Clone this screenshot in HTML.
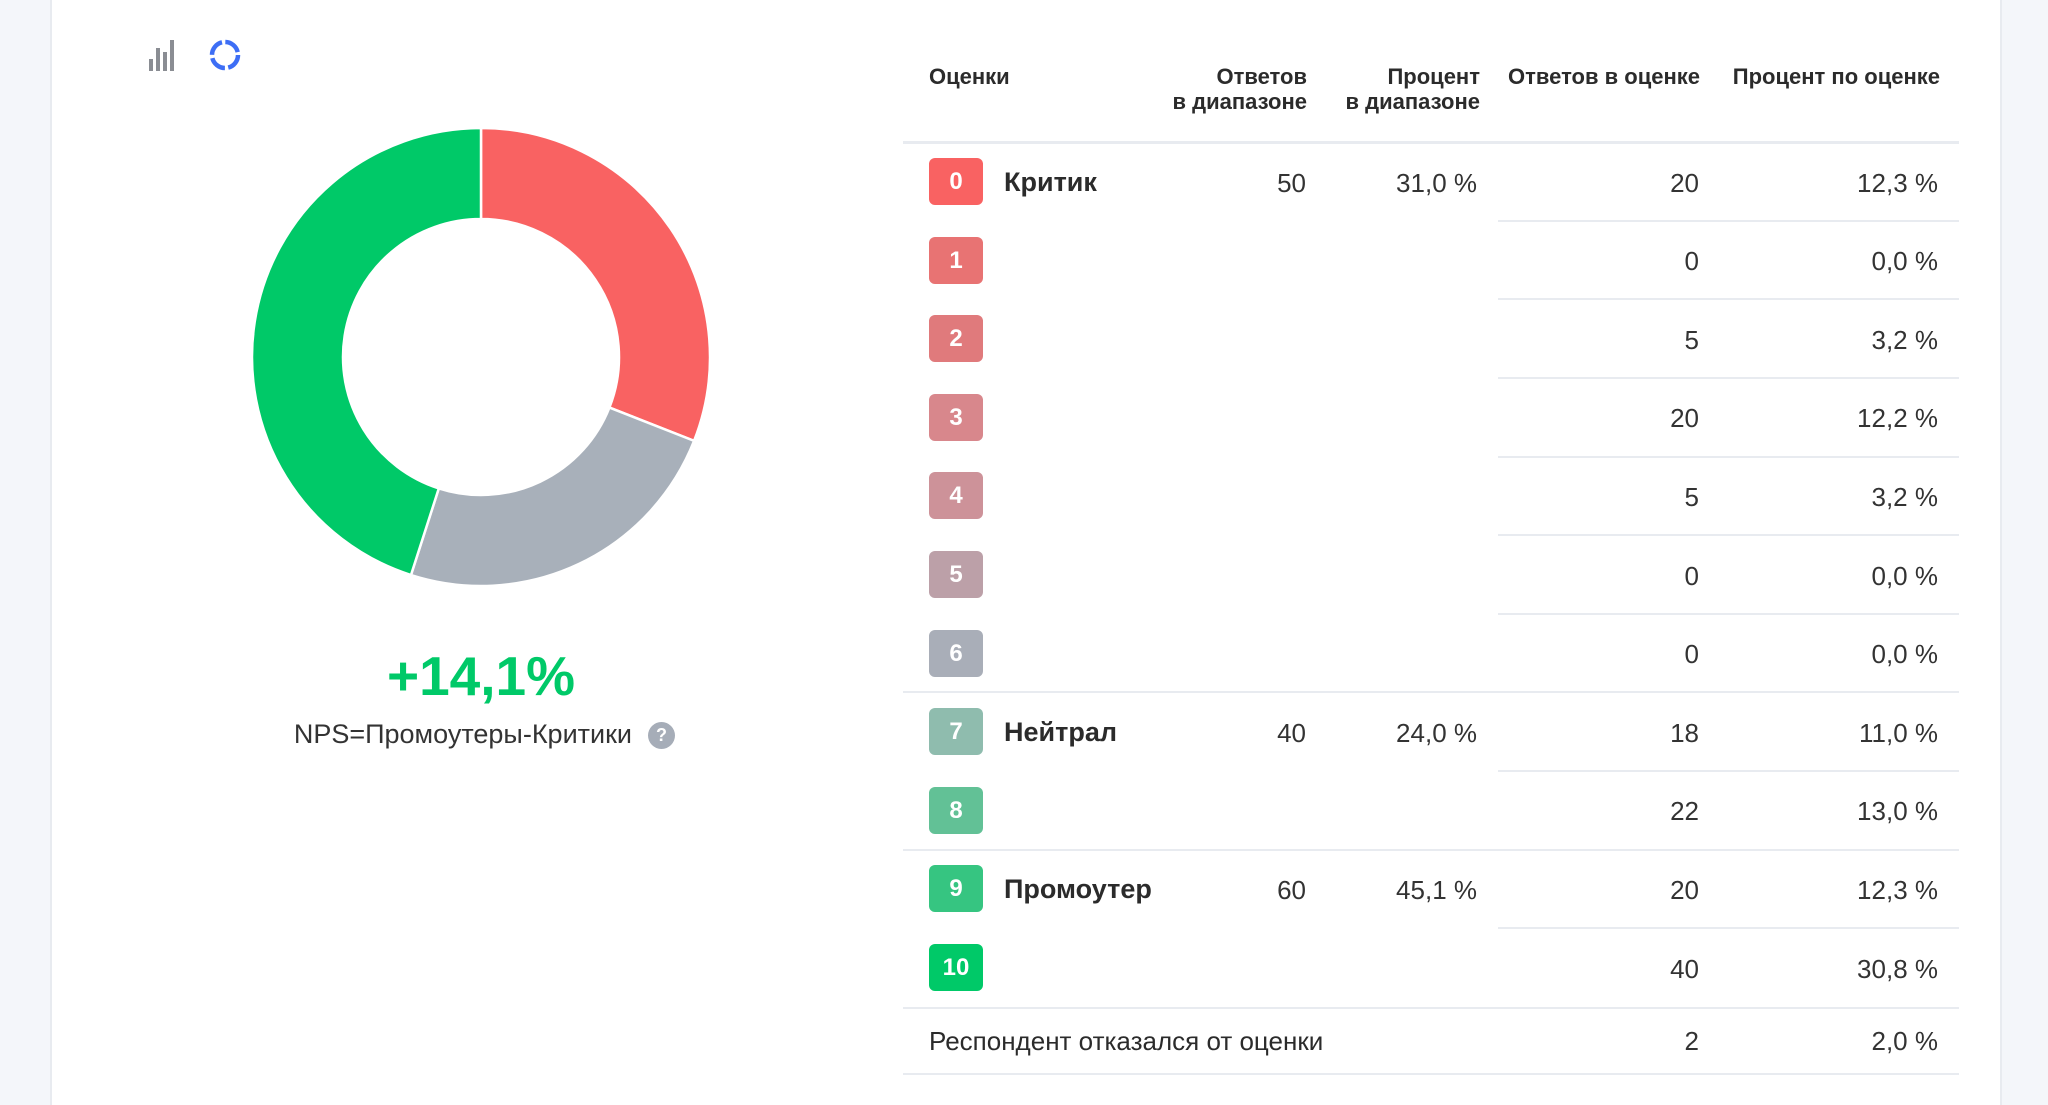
<!DOCTYPE html>
<html><head><meta charset="utf-8">
<style>
body{margin:0;width:2048px;height:1105px;background:#f4f6fa;font-family:"Liberation Sans",Roboto,"Noto Sans CJK SC",sans-serif;overflow:hidden;position:relative;color:#2b2b2b}
#card{position:absolute;left:50px;top:0;width:1948px;height:1105px;background:#fff;border-left:2px solid #e8ebf0;border-right:2px solid #e8ebf0}
.abs{position:absolute}
.hdr{position:absolute;font-weight:bold;font-size:22px;line-height:25px;color:#2b2b2b}
.num{position:absolute;font-size:26px;text-align:right;color:#333}
.badge{position:absolute;width:54px;height:47px;border-radius:6px;color:#fff;font-weight:bold;font-size:24px;line-height:47px;text-align:center}
.line{position:absolute;height:2px;background:#e8ebf0}
.lbl{position:absolute;font-weight:bold;font-size:27px;color:#2b2b2b}
</style></head><body>
<div id="card"></div>
<svg class="abs" style="left:0;top:0" width="2048" height="1105" id="chart">
  <g fill="#8a8d93">
    <rect x="149" y="59" width="4" height="12"/><rect x="156" y="48" width="4" height="23"/>
    <rect x="163" y="52" width="4" height="19"/><rect x="170" y="40" width="4" height="31"/>
  </g>
  <g>
    <circle cx="225" cy="55" r="13" fill="none" stroke="#3d6ef5" stroke-width="4.5" stroke-dasharray="17 3.4"/>
  </g>
</svg>
<div class="abs" style="left:281px;top:644px;width:400px;text-align:center;font-size:55px;font-weight:bold;color:#00c968">+14,1%</div>
<div class="abs" style="left:232px;top:719px;width:400px;text-align:right;font-size:27px;color:#333">NPS=Промоутеры-Критики</div>
<div class="abs" style="left:648px;top:722px;width:27px;height:27px;border-radius:50%;background:#a6adb8;color:#fff;font-weight:bold;font-size:18px;line-height:27px;text-align:center">?</div>

<div class="hdr" style="left:929px;top:64px">Оценки</div>
<div class="hdr" style="left:1107px;top:64px;width:200px;text-align:right">Ответов<br>в диапазоне</div>
<div class="hdr" style="left:1280px;top:64px;width:200px;text-align:right">Процент<br>в диапазоне</div>
<div class="hdr" style="left:1450px;top:64px;width:250px;text-align:right">Ответов в оценке</div>
<div class="hdr" style="left:1690px;top:64px;width:250px;text-align:right">Процент по оценке</div>
<div class="line" style="left:903px;top:141px;width:1056px;height:3px"></div>
<div id="rows"></div>

<script>
const groupNames=["Критики","Нейтралы","Промоутеры"];
const groupPercents=[31.0,24.0,45.1];
const groupColors=["#f96262","#a8b0ba","#00c968"];
const scores=[0,1,2,3,4,5,6,7,8,9,10];
const scoreCounts=[20,0,5,20,5,0,0,18,22,20,40];
const scorePercents=["12,3 %","0,0 %","3,2 %","12,2 %","3,2 %","0,0 %","0,0 %","11,0 %","13,0 %","12,3 %","30,8 %"];
const badgeColors=["#f96262","#e87373","#e07a7c","#d8878c","#cd9299","#bca0a8","#a9aeb8","#8fbcae","#62c196","#36c581","#00c968"];
const rangeStarts=[0,7,9];
const rangeLabels=["Критик","Нейтрал","Промоутер"];
const rangeCounts=[50,40,60];
const rangePercentLabels=["31,0 %","24,0 %","45,1 %"];
const refusedCount=2, refusedPercent="2,0 %";

const svg=document.getElementById('chart');
const cx=481,cy=357,R=229,r=138;
const total=groupPercents.reduce((a,b)=>a+b,0);
let a0=0;
function pt(rad,ang){return [cx+rad*Math.sin(ang),cy-rad*Math.cos(ang)];}
groupPercents.forEach((v,i)=>{
  const a1=a0+v/total*2*Math.PI;
  const large=(a1-a0)>Math.PI?1:0;
  const [x0,y0]=pt(R,a0),[x1,y1]=pt(R,a1),[x2,y2]=pt(r,a1),[x3,y3]=pt(r,a0);
  const p=document.createElementNS('http://www.w3.org/2000/svg','path');
  p.setAttribute('d',`M${x0} ${y0}A${R} ${R} 0 ${large} 1 ${x1} ${y1}L${x2} ${y2}A${r} ${r} 0 ${large} 0 ${x3} ${y3}Z`);
  p.setAttribute('fill',groupColors[i]);p.setAttribute('stroke','#fff');p.setAttribute('stroke-width','2.5');
  
  
  svg.appendChild(p);
  a0=a1;
});

const rows=document.getElementById('rows');
const top0=181.5, step=78.6;
function mk(cls,style,text){const d=document.createElement('div');d.className=cls;d.style.cssText=style;if(text!==undefined)d.textContent=text;rows.appendChild(d);return d;}
scores.forEach((s,i)=>{
  const y=top0+i*step;
  const b=mk('badge',`left:929px;top:${y-23.5}px;background:${badgeColors[i]}`,String(s));
  
  
  const c=mk('num',`left:1500px;top:${y-14}px;width:199px`,String(scoreCounts[i]));
  
  
  const p=mk('num',`left:1700px;top:${y-14}px;width:238px`,scorePercents[i]);
  
  
  const g=rangeStarts.indexOf(s);
  if(g>=0){
    const l=mk('lbl',`left:1004px;top:${y-15}px`,rangeLabels[g]);
    
    
    const rc=mk('num',`left:1150px;top:${y-14}px;width:156px`,String(rangeCounts[g]));
    
    
    const rp=mk('num',`left:1300px;top:${y-14}px;width:177px`,rangePercentLabels[g]);
    
    
  }
  if(i>0){
    const full=rangeStarts.indexOf(s)>=0;
    const ln=mk('line',`left:${full?903:1498}px;top:${y-step/2-1}px;width:${full?1056:461}px`);
    
    
  }
});
const yL=top0+10.5*step;
const l1=mk('line',`left:903px;top:${yL}px;width:1056px`);


const yR=1041;
const rl=mk('abs',`left:929px;top:${yR-15}px;font-size:26px;color:#2b2b2b`,'Респондент отказался от оценки');


const rc2=mk('num',`left:1500px;top:${yR-15}px;width:199px`,String(refusedCount));


const rp2=mk('num',`left:1700px;top:${yR-15}px;width:238px`,refusedPercent);


const l2=mk('line',`left:903px;top:1073px;width:1056px`);


</script>
</body></html>
